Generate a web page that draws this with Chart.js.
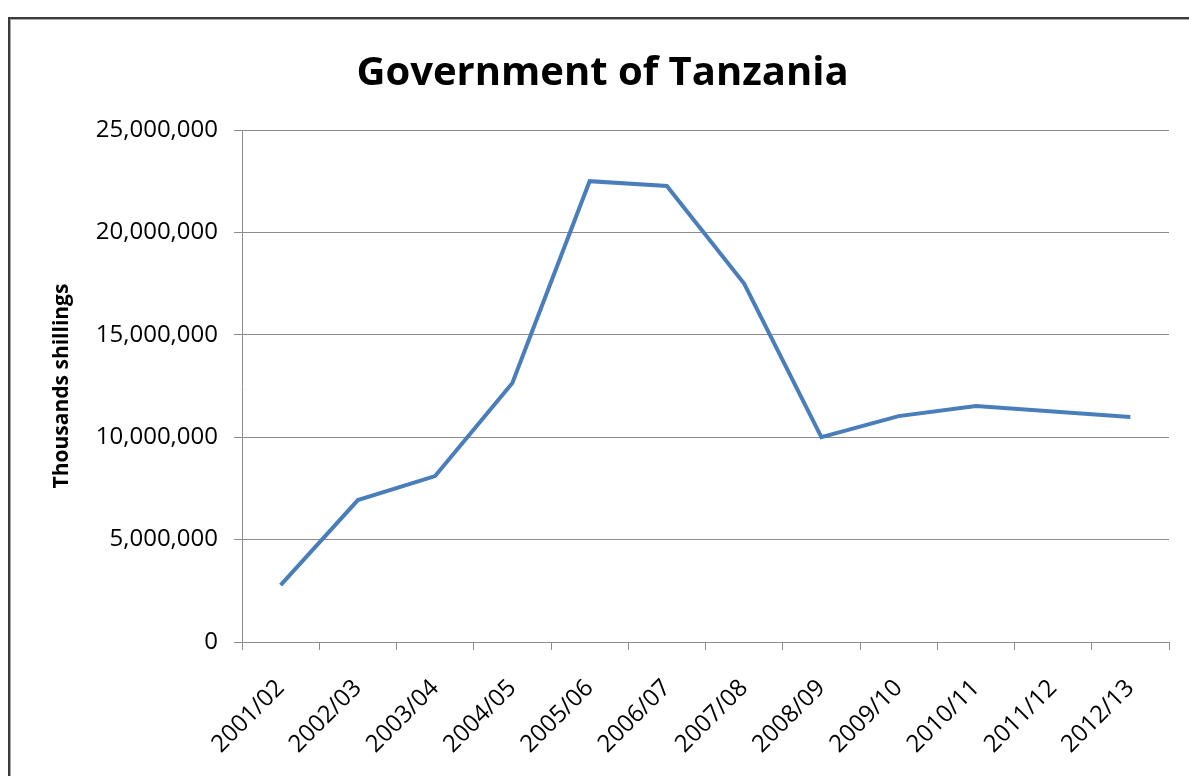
<!DOCTYPE html>
<html>
<head>
<meta charset="utf-8">
<script src="https://cdn.jsdelivr.net/npm/chart.js@4"></script>
<style>
  html, body { margin: 0; padding: 0; background: #fff; }
  #wrap { position: relative; width: 1189px; height: 776px; overflow: hidden; }
  #frame {
    position: absolute; left: 8px; top: 17px; width: 1200px; height: 800px;
    border-top: 2px solid #3a3a3a; border-left: 2px solid #3a3a3a;
    box-shadow: inset 1px 1px 0 #a8a8a8;
    pointer-events: none;
  }
  canvas { position: absolute; left: 0; top: 0; }
</style>
</head>
<body>
<div id="wrap">
  <canvas id="chart" width="1189" height="776"></canvas>
  <div id="frame"></div>
</div>
<script>
const categories = ['2001/02', '2002/03', '2003/04', '2004/05', '2005/06', '2006/07',
                    '2007/08', '2008/09', '2009/10', '2010/11', '2011/12', '2012/13'];
const governmentValues = [2780000, 6930000, 8100000, 12650000, 22500000, 22270000,
                          17500000, 10000000, 11030000, 11520000, 11250000, 10990000];
const yMin = 0;
const yMax = 25000000;
const yStep = 5000000;

const gridColor = '#8c8c8c';

document.addEventListener('DOMContentLoaded', () => {
    const ctx = document.getElementById('chart').getContext('2d');

    new Chart(ctx, {
        type: 'line',
        data: {
            labels: categories,
            datasets: [{
                label: 'Government of Tanzania',
                data: governmentValues,
                borderColor: '#4a7ebb',
                borderWidth: 4,
                pointRadius: 0,
                fill: false,
                tension: 0
            }]
        },
        options: {
            responsive: false,
            animation: false,
            layout: { padding: { left: 36, right: 20, top: 18, bottom: 0 } },
            plugins: {
                legend: { display: false },
                tooltip: { enabled: false },
                title: {
                    display: true,
                    text: 'Government of Tanzania',
                    color: '#000',
                    font: { family: 'Open Sans', size: 40, weight: 'bold' },
                    padding: { top: 32, bottom: 32 }
                }
            },
            scales: {
                x: {
                    offset: true,
                    grid: {
                        offset: true,
                        drawOnChartArea: false,
                        tickLength: 8,
                        color: gridColor
                    },
                    border: { color: gridColor },
                    ticks: {
                        color: '#000',
                        font: { family: 'Open Sans', size: 24 },
                        minRotation: 45,
                        maxRotation: 45,
                        padding: 24
                    },
                    afterFit: (scale) => { scale.height = 134; }
                },
                y: {
                    min: yMin,
                    max: yMax,
                    grid: { color: gridColor, tickLength: 8 },
                    border: { color: gridColor },
                    ticks: {
                        stepSize: yStep,
                        color: '#000',
                        font: { family: 'Open Sans', size: 24 },
                        padding: 16,
                        callback: (v) => v.toLocaleString('en-US')
                    },
                    title: {
                        display: true,
                        text: 'Thousands shillings',
                        color: '#000',
                        font: { family: 'Open Sans', size: 21, weight: 'bold' },
                        padding: { top: 13, bottom: 0 }
                    },
                    afterFit: (scale) => { scale.width = 206; }
                }
            }
        }
    });
});
</script>
</body>
</html>
